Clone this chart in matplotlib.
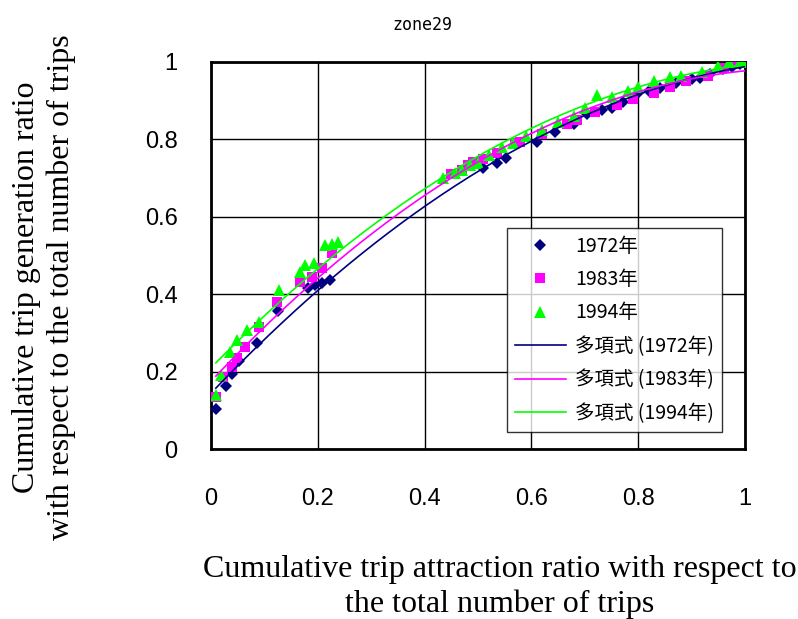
import numpy as np
import matplotlib
matplotlib.use('Agg')
import matplotlib.pyplot as plt

plt.rcParams['font.family'] = ['Liberation Sans', 'Noto Sans CJK JP', 'DejaVu Sans']

# データ
x72 = [0.009, 0.028, 0.039, 0.053, 0.086, 0.126, 0.182, 0.195, 0.207, 0.223,
       0.51, 0.535, 0.552, 0.61, 0.644, 0.68, 0.705, 0.732, 0.75, 0.772,
       0.80, 0.82, 0.84, 0.87, 0.90, 0.916, 0.935, 0.959, 0.975, 0.99, 1.0]
y72 = [0.103, 0.164, 0.194, 0.227, 0.275, 0.357, 0.415, 0.424, 0.43, 0.437,
       0.725, 0.738, 0.752, 0.794, 0.82, 0.84, 0.865, 0.876, 0.88, 0.897,
       0.919, 0.925, 0.932, 0.945, 0.955, 0.958, 0.97, 0.983, 0.988, 0.995, 1.0]

x83 = [0.009, 0.023, 0.039, 0.048, 0.064, 0.089, 0.123, 0.167, 0.189, 0.207, 0.226,
       0.45, 0.47, 0.482, 0.49, 0.51, 0.535, 0.569, 0.579, 0.62, 0.666, 0.685,
       0.72, 0.76, 0.79, 0.83, 0.86, 0.89, 0.93, 0.96, 0.98, 1.0]
y83 = [0.135, 0.187, 0.213, 0.235, 0.264, 0.316, 0.381, 0.432, 0.445, 0.467, 0.506,
       0.71, 0.722, 0.734, 0.742, 0.75, 0.764, 0.79, 0.794, 0.815, 0.841, 0.85,
       0.87, 0.89, 0.905, 0.92, 0.935, 0.95, 0.965, 0.985, 1.0, 1.0]

x94 = [0.009, 0.019, 0.036, 0.048, 0.067, 0.089, 0.127, 0.167, 0.176, 0.192, 0.213,
       0.226, 0.238, 0.434, 0.457, 0.47, 0.485, 0.50, 0.52, 0.545, 0.565, 0.59,
       0.62, 0.65, 0.68, 0.70, 0.722, 0.75, 0.78, 0.80, 0.83, 0.86, 0.88, 0.92,
       0.95, 0.97, 0.99, 1.0]
y94 = [0.14, 0.191, 0.251, 0.282, 0.307, 0.329, 0.411, 0.458, 0.475, 0.48, 0.527,
       0.531, 0.536, 0.70, 0.713, 0.72, 0.733, 0.74, 0.76, 0.78, 0.79, 0.81,
       0.825, 0.845, 0.86, 0.88, 0.915, 0.91, 0.925, 0.935, 0.95, 0.96, 0.965, 0.975,
       0.99, 1.0, 1.0, 1.0]

series = [
    ('1972年', x72, y72, '#000080', 'D', 6.5),
    ('1983年', x83, y83, '#FF00FF', 's', 6.5),
    ('1994年', x94, y94, '#00FF00', '^', 8.5),
]

fig = plt.figure(figsize=(7.98, 6.19), dpi=100)
ax = fig.add_axes([211 / 798, 1 - 449 / 619, 534 / 798, 387 / 619])

for name, xs, ys, c, m, ms in series:
    ax.plot(xs, ys, linestyle='none', marker=m, color=c, markersize=ms,
            markeredgewidth=0, label=name, zorder=3)

# 多項式近似 (2次)
xf = np.linspace(0.009, 1.0, 200)
for name, xs, ys, c, m, ms in series:
    coef = np.polyfit(xs, ys, 2)
    ax.plot(xf, np.polyval(coef, xf), color=c, linewidth=1.2,
            label='多項式 (' + name + ')', zorder=4)

ax.set_xlim(0, 1)
ax.set_ylim(0, 1)
ticks = [0, 0.2, 0.4, 0.6, 0.8, 1]
ax.set_xticks(ticks)
ax.set_yticks(ticks)
ax.set_xticklabels(['0', '0.2', '0.4', '0.6', '0.8', '1'])
ax.set_yticklabels(['0', '0.2', '0.4', '0.6', '0.8', '1'])
ax.tick_params(length=0, labelsize=17)
ax.tick_params(axis='x', pad=28)
ax.tick_params(axis='y', pad=24)
ax.grid(True, color='black', linewidth=1.0)
ax.set_axisbelow(True)
for s in ax.spines.values():
    s.set_linewidth(2)

leg = ax.legend(loc='lower right', bbox_to_anchor=(0.957, 0.045),
                prop={'family': ['Noto Sans CJK JP', 'DejaVu Sans'], 'size': 14},
                frameon=True, fancybox=False, edgecolor='black',
                borderpad=0.4, labelspacing=0.64, handlelength=2.6,
                handletextpad=0.5, borderaxespad=0)
leg.get_frame().set_linewidth(1.0)

fig.text(422 / 798, 1 - 25 / 619, 'zone29', ha='center', va='center',
         fontsize=12, family='DejaVu Sans Mono')

fig.text(44 / 798, 1 - 287 / 619,
         'Cumulative trip generation ratio\nwith respect to the total number of trips',
         rotation=90, ha='center', va='center', fontsize=23,
         family='Liberation Serif', linespacing=1.25)
fig.text(500 / 798, 1 - 587 / 619,
         'Cumulative trip attraction ratio with respect to\nthe total number of trips',
         ha='center', va='center', fontsize=23,
         family='Liberation Serif', linespacing=1.25)

fig.savefig('out.png', dpi=100)
